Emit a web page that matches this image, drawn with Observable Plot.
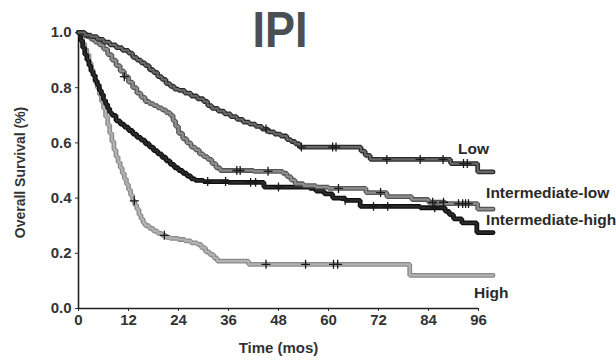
<!DOCTYPE html>
<html>
<head>
<meta charset="utf-8">
<script src="https://cdn.jsdelivr.net/npm/d3@7"></script>
<script src="https://cdn.jsdelivr.net/npm/@observablehq/plot@0.6"></script>
<style>
  html, body { margin: 0; padding: 0; background: #fff; }
  #wrap { position: relative; width: 616px; height: 362px; overflow: hidden; }
  #title {
    position: absolute; left: 230px; top: 5px; width: 100px; text-align: center;
    font-family: 'Liberation Sans', Arial, sans-serif; font-weight: 700; font-size: 50px; line-height: 50px;
    color: #4b4e53; transform: scaleX(0.9); transform-origin: 50% 50%;
  }
</style>
</head>
<body>
<div id="wrap"><div id="chart"></div><div id="title">IPI</div></div>
<script>
// ---- Data ----
const seriesNames = ["Low", "Intermediate-low", "Intermediate-high", "High"];
const xTicks = [0, 12, 24, 36, 48, 60, 72, 84, 96];
const yTicks = [0, 0.2, 0.4, 0.6, 0.8, 1.0];

// Kaplan-Meier steps: [month, survival]
const lowSteps = [[0,1],[1.5,0.99],[3,0.985],[4.5,0.975],[6,0.965],[7.5,0.955],[9,0.945],[10.5,0.935],[12,0.925],[13,0.91],[14,0.9],[15,0.89],[16,0.88],[17,0.865],[18,0.855],[19,0.84],[20,0.83],[21,0.815],[22,0.805],[23,0.795],[24,0.79],[25.5,0.78],[27,0.77],[28.5,0.76],[30,0.75],[31,0.735],[32,0.725],[33.5,0.715],[35,0.705],[36.5,0.695],[38,0.685],[39.5,0.675],[41,0.668],[42.5,0.66],[44,0.65],[45.5,0.64],[47,0.632],[48.5,0.625],[50,0.612],[51,0.605],[52,0.597],[53,0.585],[67.8,0.57],[68.8,0.555],[70,0.54],[89.3,0.525],[95.8,0.495],[99.5,0.495]];
const intLowSteps = [[0,1],[1,0.995],[2,0.985],[3,0.975],[4,0.965],[5,0.955],[6,0.94],[7,0.92],[8,0.9],[9,0.88],[10,0.86],[11,0.84],[12,0.82],[13,0.8],[14,0.78],[15,0.765],[16,0.75],[17,0.742],[18,0.735],[19,0.727],[20,0.72],[21,0.71],[22,0.7],[22.7,0.68],[23.3,0.66],[24,0.635],[25,0.615],[26,0.6],[27,0.585],[28,0.575],[29,0.56],[30,0.55],[31,0.54],[32,0.525],[33,0.51],[34,0.5],[42,0.497],[49,0.49],[50,0.478],[51,0.465],[52,0.452],[54,0.445],[57,0.44],[60,0.435],[69,0.42],[74,0.405],[80,0.395],[84,0.385],[88,0.38],[95.8,0.36],[99.5,0.36]];
const intHighSteps = [[0,1],[0.5,0.97],[1,0.945],[1.5,0.92],[2,0.9],[2.5,0.88],[3,0.86],[3.5,0.845],[4,0.825],[4.5,0.81],[5,0.79],[5.5,0.775],[6,0.755],[6.5,0.74],[7,0.725],[7.5,0.71],[8,0.7],[9,0.68],[10,0.668],[11,0.657],[12,0.645],[13,0.632],[14,0.62],[15,0.61],[16,0.597],[17,0.585],[18,0.572],[19,0.56],[20,0.548],[21,0.535],[22,0.522],[23,0.51],[24,0.5],[25,0.49],[26,0.48],[27,0.47],[28,0.464],[30,0.46],[36,0.457],[44.5,0.44],[55.5,0.435],[57,0.425],[59,0.415],[61,0.4],[64,0.392],[67.6,0.37],[82,0.365],[88,0.352],[89,0.34],[90,0.325],[92,0.31],[95.6,0.275],[99.5,0.275]];
const highSteps = [[0,1],[0.5,0.98],[1,0.96],[1.5,0.94],[2,0.92],[2.5,0.89],[3,0.865],[3.5,0.845],[4,0.82],[4.5,0.8],[5,0.775],[5.5,0.75],[6,0.725],[6.5,0.695],[7,0.665],[7.5,0.635],[8,0.605],[8.5,0.575],[9,0.55],[9.5,0.53],[10,0.51],[10.5,0.49],[11,0.47],[11.5,0.45],[12,0.43],[12.5,0.41],[13,0.39],[13.5,0.375],[14,0.36],[14.5,0.34],[15,0.325],[15.5,0.31],[16,0.3],[17,0.29],[18,0.28],[19,0.272],[20,0.265],[21,0.258],[22,0.254],[24,0.25],[25.5,0.245],[27,0.238],[28.5,0.232],[29.5,0.22],[30.5,0.205],[31.5,0.195],[32.5,0.183],[33.3,0.172],[40.8,0.16],[79.5,0.12],[99.5,0.12]];

// Censoring times (months)
const lowCensor = [45, 53.5, 61, 61.8, 74, 82, 87.5, 92.4, 93.3];
const intLowCensor = [11, 38, 38.8, 45.5, 62.4, 72.5, 85, 87.6, 91.2, 92.2, 92.9, 93.6];
const intHighCensor = [31, 35.3, 41.3, 42.5, 48, 64, 70.8, 74.2, 85.5];
const highCensor = [13.4, 20.6, 45, 54.5, 61.2, 62.2];

// ---- Build tidy tables ----
const allSteps = [lowSteps, intLowSteps, intHighSteps, highSteps];
const allCensor = [lowCensor, intLowCensor, intHighCensor, highCensor];
const edgeColor = ["#2a2a2a", "#555", "#0e0e0e", "#8a8a8a"];
const coreColor = ["#686868", "#8e8e8e", "#2a2a2a", "#b2b2b2"];

const lines = [];
allSteps.forEach((steps, i) => steps.forEach(([t, s]) => lines.push({series: seriesNames[i], t, s})));

function survAt(steps, t) {
  let v = steps[0][1];
  for (const [tt, s] of steps) { if (tt <= t) v = s; else break; }
  return v;
}
const censors = [];
allCensor.forEach((ts, i) => ts.forEach(t => censors.push({series: seriesNames[i], t, s: survAt(allSteps[i], t)})));

const lastPts = allSteps.map((steps, i) => ({series: seriesNames[i], t: steps[steps.length - 1][0], s: steps[steps.length - 1][1]}));
const labelDx = [-35, -7, -7, -19];
const labelDy = [-23, -16, -13, 18];

const font = "'Liberation Sans', Arial, Helvetica, sans-serif";
const order = [3, 2, 1, 0]; // draw High first, Low last

const lineMarks = [];
for (const i of order) {
  const data = lines.filter(d => d.series === seriesNames[i]);
  lineMarks.push(Plot.line(data, {x: "t", y: "s", curve: "step-after", stroke: edgeColor[i], strokeWidth: 4.8, strokeLinejoin: "miter"}));
  lineMarks.push(Plot.line(data, {x: "t", y: "s", curve: "step-after", stroke: coreColor[i], strokeWidth: 2.2, strokeLinejoin: "miter"}));
}

const labelMarks = lastPts.map((d, i) => Plot.text([d], {
  x: "t", y: "s", text: "series", dx: labelDx[i], dy: labelDy[i],
  textAnchor: "start", fontSize: 15.5, fontWeight: "bold", fill: "#2a2a2a", fontFamily: font
}));

const chart = Plot.plot({
  width: 616,
  height: 362,
  marginLeft: 78,
  marginRight: 138,
  marginTop: 32,
  marginBottom: 54,
  style: {fontFamily: font, background: "#fff", overflow: "visible"},
  x: {domain: [0, 96]},
  y: {domain: [0, 1]},
  marks: [
    Plot.axisY({ticks: yTicks, tickFormat: d3.format(".1f"), tickSize: 3, tickPadding: 4, fontSize: 15, fontWeight: "bold", fill: "#333", stroke: "#333", label: null}),
    Plot.axisX({ticks: xTicks, tickSize: 3, tickPadding: 3, fontSize: 15, fontWeight: "bold", fill: "#333", stroke: "#333", label: null}),
    Plot.ruleX([0], {y1: 0, y2: 1, stroke: "#222", strokeWidth: 1.6}),
    Plot.ruleY([0], {x1: 0, x2: 96, stroke: "#222", strokeWidth: 1.6}),
    ...lineMarks,
    Plot.dot(censors, {x: "t", y: "s", symbol: "plus", r: 3, stroke: "#1a1a1a", strokeWidth: 1.3}),
    ...labelMarks,
    Plot.text(["Overall Survival (%)"], {frameAnchor: "left", textAnchor: "middle", lineAnchor: "middle", dx: -58, dy: 2, rotate: -90, fontSize: 14, fontWeight: "bold", fill: "#333", fontFamily: font}),
    Plot.text(["Time (mos)"], {frameAnchor: "bottom", lineAnchor: "middle", dy: 40, fontSize: 15, fontWeight: "bold", fill: "#333", fontFamily: font})
  ]
});
document.getElementById("chart").appendChild(chart);
</script>
</body>
</html>
